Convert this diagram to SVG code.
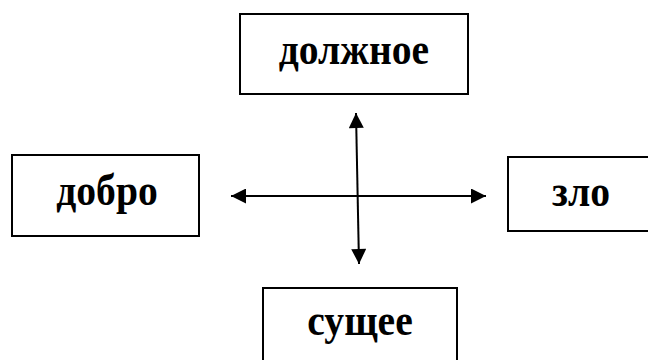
<svg xmlns="http://www.w3.org/2000/svg" width="648" height="360" viewBox="0 0 648 360">
<style>
.box{fill:#fff;stroke:#000;stroke-width:2}
.lbl{font-family:"Liberation Serif","Times New Roman",serif;font-weight:bold;font-size:44px;fill:#000;text-anchor:middle}
.con{stroke:#000;stroke-width:2;fill:none}
</style>
<defs>
<marker id="ah" viewBox="0 0 10 10" refX="10" refY="5" markerUnits="userSpaceOnUse" markerWidth="16" markerHeight="15" orient="auto-start-reverse">
<path d="M0,0 L10,5 L0,10 Z" fill="#000"/>
</marker>
</defs>
<rect width="648" height="360" fill="#fff"/>
<g id="node-dolzhnoe">
<rect class="box" x="240" y="14" width="228" height="80"/>
<text class="lbl" transform="translate(354,64) scale(0.9,1)">должное</text>
</g>
<g id="node-dobro">
<rect class="box" x="12" y="155" width="187" height="81"/>
<text class="lbl" transform="translate(107,205) scale(0.9,1)">добро</text>
</g>
<g id="node-zlo">
<rect class="box" x="508" y="157" width="150" height="74"/>
<text class="lbl" transform="translate(581,206) scale(0.9,1)">зло</text>
</g>
<g id="node-sushchee">
<rect class="box" x="263" y="288" width="194" height="90"/>
<text class="lbl" transform="translate(360,335) scale(0.9,1)">сущее</text>
</g>
<g id="connectors">
<line class="con" x1="231" y1="196" x2="486" y2="196" marker-start="url(#ah)" marker-end="url(#ah)"/>
<line class="con" x1="356" y1="113" x2="359" y2="264" marker-start="url(#ah)" marker-end="url(#ah)"/>
</g>
</svg>
